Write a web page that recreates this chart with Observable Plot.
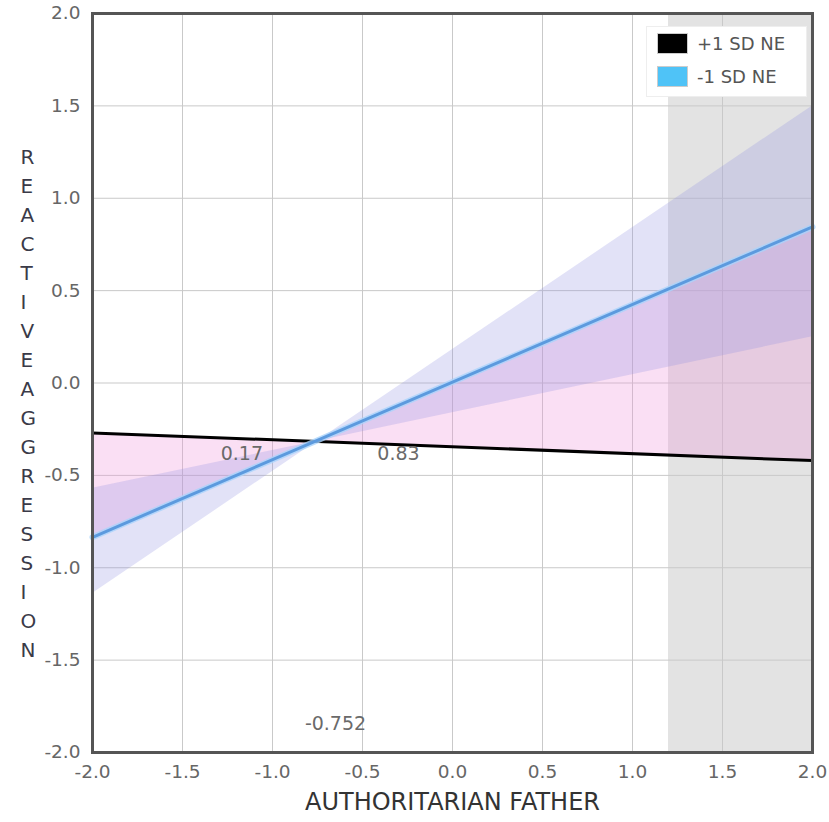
<!DOCTYPE html>
<html>
<head>
<meta charset="utf-8">
<script src="https://cdn.jsdelivr.net/npm/d3@7"></script>
<script src="https://cdn.jsdelivr.net/npm/@observablehq/plot@0.6"></script>
<style>
  html, body { margin: 0; padding: 0; background: #fff; }
  #wrap { position: relative; width: 829px; height: 822px; }
  #legend {
    position: absolute; left: 646px; top: 26px; width: 161px; height: 71px;
    background: #fff; border: 1px solid #eee; box-sizing: border-box;
    font-family: "DejaVu Sans", Verdana, sans-serif; font-size: 18px; color: #555;
  }
  .row { position: absolute; left: 10px; display: flex; align-items: center; }
  .sw { width: 31px; height: 21px; box-sizing: border-box; border: 1px solid #ccc; margin-right: 9px; }
</style>
</head>
<body>
<div id="wrap"></div>
<script>
// ---- data ----
const xTicks = [-2.0, -1.5, -1.0, -0.5, 0.0, 0.5, 1.0, 1.5, 2.0];
const yTicks = [-2.0, -1.5, -1.0, -0.5, 0.0, 0.5, 1.0, 1.5, 2.0];
const xDomain = [-2, 2];
const yDomain = [-2, 2];

// band vertices: left edge, crossover, right edge
const bandX      = [-2.0, -0.752, 2.0];
const plusSD     = [-0.27, -0.315, -0.42];   // +1 SD NE line
const minusSD    = [-0.835, -0.315, 0.845];  // -1 SD NE line
const wedgeLow   = [-0.57, -0.315, 0.25];
const wedgeHigh  = [-1.14, -0.315, 1.50];

// region of significance (shaded)
const shadeFrom = [1.2];
const shadeTo   = [2.0];

// annotations
const noteText = ["0.17", "0.83", "-0.752"];
const noteX    = [-1.17, -0.30, -0.65];
const noteY    = [-0.385, -0.385, -1.845];

const seriesNames  = ["+1 SD NE", "-1 SD NE"];
const seriesColors = ["#000000", "#4fc3f7"];

const xTitle = "AUTHORITARIAN FATHER";
const yTitle = "REACTIVEAGGRESSION";

// ---- tables built from the arrays ----
const bandRows = bandX.map((x, i) => ({x, plus: plusSD[i], minus: minusSD[i], lo: wedgeLow[i], hi: wedgeHigh[i]}));
const lineRows = [0, bandX.length - 1].map(i => ({x: bandX[i], plus: plusSD[i], minus: minusSD[i]}));
const shadeRows = shadeFrom.map((a, i) => ({x1: a, x2: shadeTo[i]}));
const notes = noteText.map((t, i) => ({t, x: noteX[i], y: noteY[i]}));

const font = "DejaVu Sans, Verdana, sans-serif";
const fmt = d => d.toFixed(1);

const chart = Plot.plot({
  width: 829,
  height: 822,
  marginLeft: 92,
  marginRight: 17,
  marginTop: 13,
  marginBottom: 70,
  style: {fontFamily: font, background: "#fff"},
  x: {domain: xDomain, axis: null},
  y: {domain: yDomain, axis: null},
  marks: [
    Plot.rect(shadeRows, {x1: "x1", x2: "x2", fill: "#e3e3e3"}),
    Plot.gridX(xTicks, {stroke: "#c9c9c9", strokeOpacity: 1}),
    Plot.gridY(yTicks, {stroke: "#c9c9c9", strokeOpacity: 1}),
    Plot.areaY(bandRows, {x: "x", y1: "plus", y2: "minus", fill: "#f096dc", fillOpacity: 0.3}),
    Plot.areaY(bandRows, {x: "x", y1: "lo", y2: "hi", fill: "#8f90e0", fillOpacity: 0.26}),
    Plot.line(lineRows, {x: "x", y: "plus", stroke: "#000", strokeWidth: 3}),
    Plot.line(lineRows, {x: "x", y: "minus", stroke: "#a9d3fb", strokeWidth: 6, strokeOpacity: 0.8}),
    Plot.line(lineRows, {x: "x", y: "minus", stroke: "#5c9ade", strokeWidth: 3}),
    Plot.text(notes, {x: "x", y: "y", text: "t", fill: "#6a6a6a", fontSize: 19}),
    Plot.frame({stroke: "#555", strokeWidth: 3}),
    // tick labels
    Plot.text(xTicks, {x: d => d, frameAnchor: "bottom", dy: 25, text: fmt, fontSize: 18.5, fill: "#666"}),
    Plot.text(yTicks, {y: d => d, frameAnchor: "left", dx: -12, textAnchor: "end", text: fmt, fontSize: 18.5, fill: "#666"}),
    // axis titles
    Plot.text([xTitle], {frameAnchor: "bottom", dy: 57, fontSize: 24, fill: "#333", text: d => d}),
    Plot.text([yTitle.split("").join("\n")], {frameAnchor: "left", dx: -72, dy: 18, fontSize: 20, lineHeight: 1.45, fill: "#3a3a48", text: d => d})
  ]
});

const wrap = document.getElementById("wrap");
wrap.appendChild(chart);

const legend = document.createElement("div");
legend.id = "legend";
seriesNames.forEach((name, i) => {
  const row = document.createElement("div");
  row.className = "row";
  row.style.top = (6 + i * 33) + "px";
  const sw = document.createElement("div");
  sw.className = "sw";
  sw.style.background = seriesColors[i];
  const lab = document.createElement("span");
  lab.textContent = name;
  row.appendChild(sw);
  row.appendChild(lab);
  legend.appendChild(row);
});
wrap.appendChild(legend);
</script>
</body>
</html>
